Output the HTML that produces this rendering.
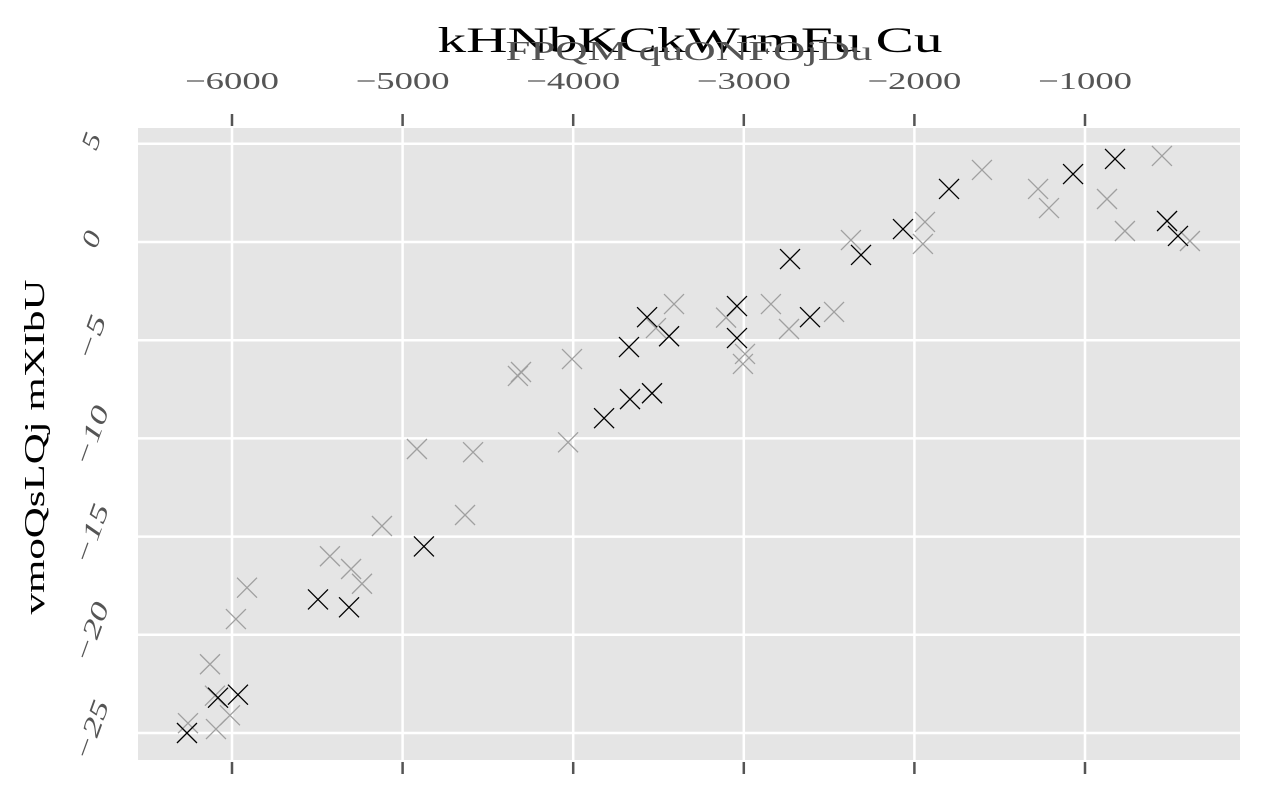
<!DOCTYPE html>
<html><head><meta charset="utf-8"><style>
body{margin:0;background:#fff;}
svg{display:block;font-family:"Liberation Serif",serif;}
</style></head><body>
<svg id="chart" width="1264" height="790">
<rect x="138" y="128" width="1102" height="632" fill="#e5e5e5"/>
<g id="grid"></g><g id="ticks"></g><g id="pts"></g>
<text x="690" y="52" text-anchor="middle" font-size="36" fill="#000" textLength="505" lengthAdjust="spacingAndGlyphs">kHNbKCkWrmFu Cu</text>
<text x="689" y="60" text-anchor="middle" font-size="27" fill="#555" textLength="367" lengthAdjust="spacingAndGlyphs">FPQM quONFOjDu</text>
<text transform="translate(44,447) rotate(-90)" text-anchor="middle" font-size="28" fill="#000" textLength="335" lengthAdjust="spacingAndGlyphs">vmoQsLQj mXIbU</text>
</svg>
<script>
const xTicks=[-6000,-5000,-4000,-3000,-2000,-1000];
const yTicks=[5,0,-5,-10,-15,-20,-25];
const blackX=[-6264,-6082,-5965,-5496,-5314,-4875,-3819,-3667,-3538,-3673,-3567,-3438,-3040,-3040,-2729,-2612,-2313,-2067,-1797,-1070,-824,-519,-455];
const blackY=[-25.0,-23.2,-23.05,-18.2,-18.6,-15.5,-8.97,-8.0,-7.7,-5.35,-3.83,-4.8,-3.26,-4.89,-0.87,-3.83,-0.66,0.66,2.7,3.46,4.23,1.07,0.31];
const greyX=[-6258,-6094,-6012,-6129,-6100,-5977,-5912,-5426,-5302,-5238,-5121,-4916,-4587,-4634,-4306,-4324,-4007,-4030,-3515,-3409,-3104,-3005,-2993,-2841,-2735,-2471,-2372,-1938,-1950,-1604,-1275,-1211,-871,-766,-549,-385];
const greyY=[-24.5,-24.8,-24.1,-21.5,-23.1,-19.2,-17.6,-16.0,-16.65,-17.4,-14.46,-10.54,-10.7,-13.9,-6.62,-6.82,-5.96,-10.2,-4.38,-3.16,-3.85,-6.21,-5.7,-3.16,-4.43,-3.56,0.1,1.02,-0.1,3.67,2.7,1.73,2.19,0.56,4.38,0.05];
const NS="http://www.w3.org/2000/svg";
const sx=v=>232+(v+6000)*0.1706;
const sy=v=>242-v*19.64;
function mk(tag,attrs,parent){const e=document.createElementNS(NS,tag);for(const k in attrs)e.setAttribute(k,attrs[k]);document.getElementById(parent).appendChild(e);return e;}
xTicks.forEach(t=>{
  const g=mk('line',{x1:sx(t),x2:sx(t),y1:128,y2:760,stroke:'#fff','stroke-width':2.5},'grid');
  
  
  [[114,126],[762,774]].forEach(([a,b])=>{const l=mk('line',{x1:sx(t),x2:sx(t),y1:a,y2:b,stroke:'#555','stroke-width':2.5},'ticks');
  
  });
  const s='\u2212'+Math.abs(t);
  const tx=mk('text',{x:sx(t),y:89,'text-anchor':'middle','font-size':24,fill:'#555',textLength:94,lengthAdjust:'spacingAndGlyphs'},'ticks');
  tx.textContent=s;
  
  
});
yTicks.forEach(t=>{
  const g=mk('line',{x1:138,x2:1240,y1:sy(t),y2:sy(t),stroke:'#fff','stroke-width':2.5},'grid');
  
  
  const s=(t<0?'\u2212':'')+Math.abs(t);
  const len=(t<0?30:0)+String(Math.abs(t)).length*16;
  const tx=mk('text',{transform:`translate(99,${sy(t)}) rotate(-70)`,'text-anchor':'middle','font-size':25,'font-style':'italic',fill:'#555',textLength:len,lengthAdjust:'spacingAndGlyphs'},'ticks');
  tx.textContent=s;
  
  
});
function cross(x,y,col,name){
  const px=sx(x),py=sy(y),r=10;
  const p=mk('path',{d:`M${px-r},${py-r}L${px+r},${py+r}M${px-r},${py+r}L${px+r},${py-r}`,stroke:col,'stroke-width':1.3,fill:'none'},'pts');
  
  
}
greyX.forEach((x,i)=>cross(x,greyY[i],'#a0a0a0','grey-point'));
blackX.forEach((x,i)=>cross(x,blackY[i],'#000','black-point'));
</script>
</body></html>
